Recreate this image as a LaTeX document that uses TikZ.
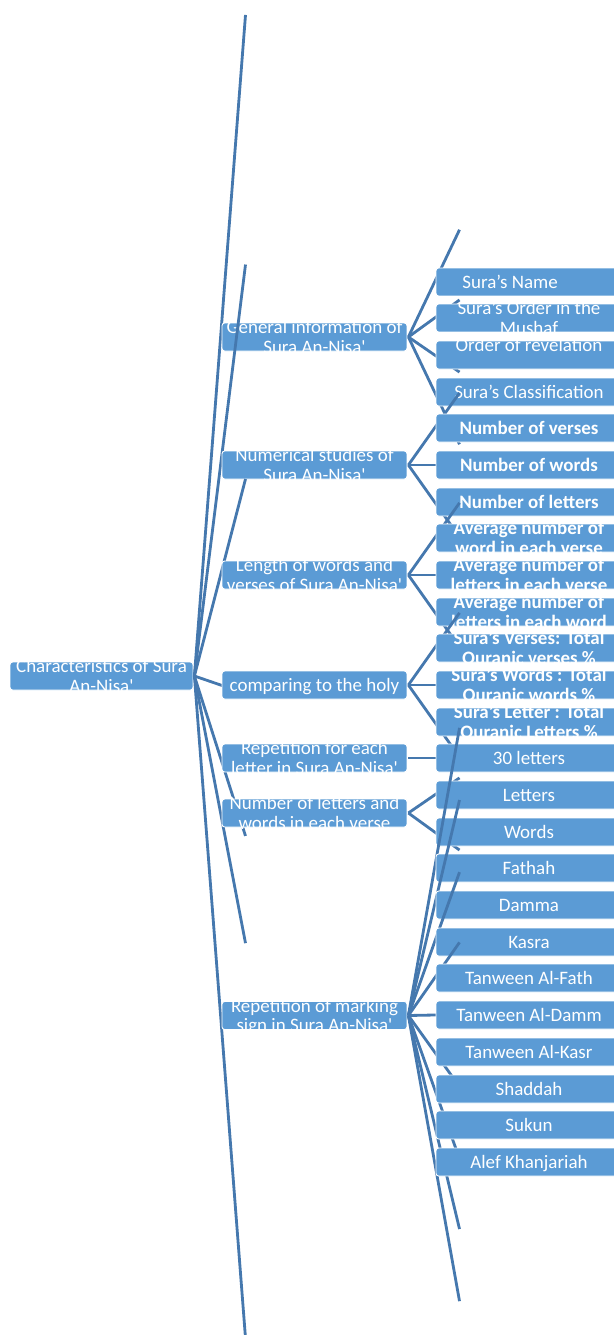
\documentclass[tikz,border=0pt]{standalone}
\usepackage{fontspec}
\setmainfont{Carlito}
\usepackage{tikz}
\usetikzlibrary{calc}

\definecolor{boxblue}{HTML}{5B9BD5}
\definecolor{lineblue}{HTML}{4578AE}

% one line / two lines, kept at the middle of the box
\newcommand{\lone}[1]{\smash{\raisebox{-3.8pt}{#1}}}
\newcommand{\ltwo}[2]{\smash{\raisebox{1.8pt}{\begin{tabular}[t]{@{}c@{}}#1\\#2\end{tabular}}}}

\tikzset{
  box/.style={rectangle, rounded corners=1.5pt, fill=boxblue, draw=white, line width=0.5pt,
    text=white, inner sep=0pt, outer sep=0.8pt, minimum width=3.7cm, minimum height=0.56cm,
    font=\fontsize{10.8}{11}\selectfont},
  leaf/.style={box, minimum width=3.72cm},
  conn/.style={draw=lineblue, line width=1.6pt},
}

\begin{document}
\begin{tikzpicture}[x=0.02cm, y=-0.02cm]
    \clip (0,0) rectangle (614,1335);
    \node[box, minimum width=3.66cm] (root) at (101.5,676) {\ltwo{Characteristics of Sura}{An-Nisa\textquotesingle}};

    % General information
    \coordinate (gen-in) at (220.6,337);
    \draw[conn] (root.east) -- ($(root.east)!1.95!(gen-in)$);
    \node[box, anchor=west] (gen) at (gen-in) {\ltwo{General information of}{Sura An-Nisa\textquotesingle}};
    \coordinate (name-in) at (434.6,282);
    \draw[conn] (gen.east) -- ($(gen.east)!1.95!(name-in)$);
    \node[leaf, anchor=west] (name) at (name-in) {\lone{Sura’s Name\hspace{21.5pt}}};
    \coordinate (order-in) at (434.6,318);
    \draw[conn] (gen.east) -- ($(gen.east)!1.95!(order-in)$);
    \node[leaf, anchor=west] (order) at (order-in) {\ltwo{Sura’s Order in the}{Mushaf}};
    \coordinate (revel-in) at (434.6,355);
    \draw[conn] (gen.east) -- ($(gen.east)!1.95!(revel-in)$);
    \node[leaf, anchor=west] (revel) at (revel-in) {\ltwo{Order of revelation}{}};
    \coordinate (class-in) at (434.6,392);
    \draw[conn] (gen.east) -- ($(gen.east)!1.95!(class-in)$);
    \node[leaf, anchor=west] (class) at (class-in) {\lone{Sura’s Classification}};

    % Numerical studies
    \coordinate (num-in) at (220.6,465);
    \draw[conn] (root.east) -- ($(root.east)!1.95!(num-in)$);
    \node[box, anchor=west] (num) at (num-in) {\ltwo{Numerical studies of}{Sura An-Nisa\textquotesingle}};
    \coordinate (nverse-in) at (434.6,428);
    \draw[conn] (num.east) -- ($(num.east)!1.95!(nverse-in)$);
    \node[leaf, anchor=west] (nverse) at (nverse-in) {\lone{\bfseries Number of verses}};
    \coordinate (nword-in) at (434.6,465);
    \draw[conn] (num.east) -- ($(num.east)!1.95!(nword-in)$);
    \node[leaf, anchor=west] (nword) at (nword-in) {\lone{\bfseries Number of words}};
    \coordinate (nletter-in) at (434.6,502);
    \draw[conn] (num.east) -- ($(num.east)!1.95!(nletter-in)$);
    \node[leaf, anchor=west] (nletter) at (nletter-in) {\lone{\bfseries Number of letters}};

    % Length of words and verses
    \coordinate (len-in) at (220.6,575);
    \draw[conn] (root.east) -- ($(root.east)!1.95!(len-in)$);
    \node[box, anchor=west] (len) at (len-in) {\ltwo{Length of words and}{verses of Sura An-Nisa\textquotesingle}};
    \coordinate (avgwv-in) at (434.6,538);
    \draw[conn] (len.east) -- ($(len.east)!1.95!(avgwv-in)$);
    \node[leaf, anchor=west] (avgwv) at (avgwv-in) {\bfseries\ltwo{Average number of}{word in each verse}};
    \coordinate (avglv-in) at (434.6,575);
    \draw[conn] (len.east) -- ($(len.east)!1.95!(avglv-in)$);
    \node[leaf, anchor=west] (avglv) at (avglv-in) {\bfseries\ltwo{Average number of}{letters in each verse}};
    \coordinate (avglw-in) at (434.6,612);
    \draw[conn] (len.east) -- ($(len.east)!1.95!(avglw-in)$);
    \node[leaf, anchor=west] (avglw) at (avglw-in) {\bfseries\ltwo{Average number of}{letters in each word}};

    % comparing to the holy
    \coordinate (cmp-in) at (220.6,685);
    \draw[conn] (root.east) -- ($(root.east)!1.95!(cmp-in)$);
    \node[box, anchor=west] (cmp) at (cmp-in) {\lone{comparing to the holy}};
    \coordinate (tverse-in) at (434.6,648);
    \draw[conn] (cmp.east) -- ($(cmp.east)!1.95!(tverse-in)$);
    \node[leaf, anchor=west] (tverse) at (tverse-in) {\bfseries\ltwo{Sura’s Verses: Total}{Quranic verses \%}};
    \coordinate (tword-in) at (434.6,685);
    \draw[conn] (cmp.east) -- ($(cmp.east)!1.95!(tword-in)$);
    \node[leaf, anchor=west] (tword) at (tword-in) {\bfseries\ltwo{Sura’s Words : Total}{Quranic words \%}};
    \coordinate (tletter-in) at (434.6,722);
    \draw[conn] (cmp.east) -- ($(cmp.east)!1.95!(tletter-in)$);
    \node[leaf, anchor=west] (tletter) at (tletter-in) {\bfseries\ltwo{Sura’s Letter : Total}{Quranic Letters \%}};

    % Repetition for each letter
    \coordinate (rep-in) at (220.6,758);
    \draw[conn] (root.east) -- ($(root.east)!1.95!(rep-in)$);
    \node[box, anchor=west] (rep) at (rep-in) {\ltwo{Repetition for each}{letter in Sura An-Nisa\textquotesingle}};
    \coordinate (thirty-in) at (434.6,758);
    \draw[conn] (rep.east) -- ($(rep.east)!1.95!(thirty-in)$);
    \node[leaf, anchor=west] (thirty) at (thirty-in) {\lone{30 letters}};

    % Number of letters and words
    \coordinate (lw-in) at (220.6,813);
    \draw[conn] (root.east) -- ($(root.east)!1.95!(lw-in)$);
    \node[box, anchor=west] (lw) at (lw-in) {\ltwo{Number of letters and}{words in each verse}};
    \coordinate (letters-in) at (434.6,795);
    \draw[conn] (lw.east) -- ($(lw.east)!1.95!(letters-in)$);
    \node[leaf, anchor=west] (letters) at (letters-in) {\lone{Letters}};
    \coordinate (words-in) at (434.6,832);
    \draw[conn] (lw.east) -- ($(lw.east)!1.95!(words-in)$);
    \node[leaf, anchor=west] (words) at (words-in) {\lone{Words}};

    % Repetition of marking sign
    \coordinate (mark-in) at (220.6,1015.5);
    \draw[conn] (root.east) -- ($(root.east)!1.95!(mark-in)$);
    \node[box, anchor=west] (mark) at (mark-in) {\ltwo{Repetition of marking}{sign in Sura An-Nisa\textquotesingle}};
    \coordinate (fathah-in) at (434.6,868);
    \draw[conn] (mark.east) -- ($(mark.east)!1.95!(fathah-in)$);
    \node[leaf, anchor=west] (fathah) at (fathah-in) {\lone{Fathah}};
    \coordinate (damma-in) at (434.6,905);
    \draw[conn] (mark.east) -- ($(mark.east)!1.95!(damma-in)$);
    \node[leaf, anchor=west] (damma) at (damma-in) {\lone{Damma}};
    \coordinate (kasra-in) at (434.6,942);
    \draw[conn] (mark.east) -- ($(mark.east)!1.95!(kasra-in)$);
    \node[leaf, anchor=west] (kasra) at (kasra-in) {\lone{Kasra}};
    \coordinate (tfath-in) at (434.6,978);
    \draw[conn] (mark.east) -- ($(mark.east)!1.95!(tfath-in)$);
    \node[leaf, anchor=west] (tfath) at (tfath-in) {\lone{Tanween Al-Fath}};
    \coordinate (tdamm-in) at (434.6,1015);
    \draw[conn] (mark.east) -- ($(mark.east)!1.95!(tdamm-in)$);
    \node[leaf, anchor=west] (tdamm) at (tdamm-in) {\lone{Tanween Al-Damm}};
    \coordinate (tkasr-in) at (434.6,1052);
    \draw[conn] (mark.east) -- ($(mark.east)!1.95!(tkasr-in)$);
    \node[leaf, anchor=west] (tkasr) at (tkasr-in) {\lone{Tanween Al-Kasr}};
    \coordinate (shaddah-in) at (434.6,1089);
    \draw[conn] (mark.east) -- ($(mark.east)!1.95!(shaddah-in)$);
    \node[leaf, anchor=west] (shaddah) at (shaddah-in) {\lone{Shaddah}};
    \coordinate (sukun-in) at (434.6,1125);
    \draw[conn] (mark.east) -- ($(mark.east)!1.95!(sukun-in)$);
    \node[leaf, anchor=west] (sukun) at (sukun-in) {\lone{Sukun}};
    \coordinate (alef-in) at (434.6,1162);
    \draw[conn] (mark.east) -- ($(mark.east)!1.95!(alef-in)$);
    \node[leaf, anchor=west] (alef) at (alef-in) {\lone{Alef Khanjariah}};
\end{tikzpicture}
\end{document}
